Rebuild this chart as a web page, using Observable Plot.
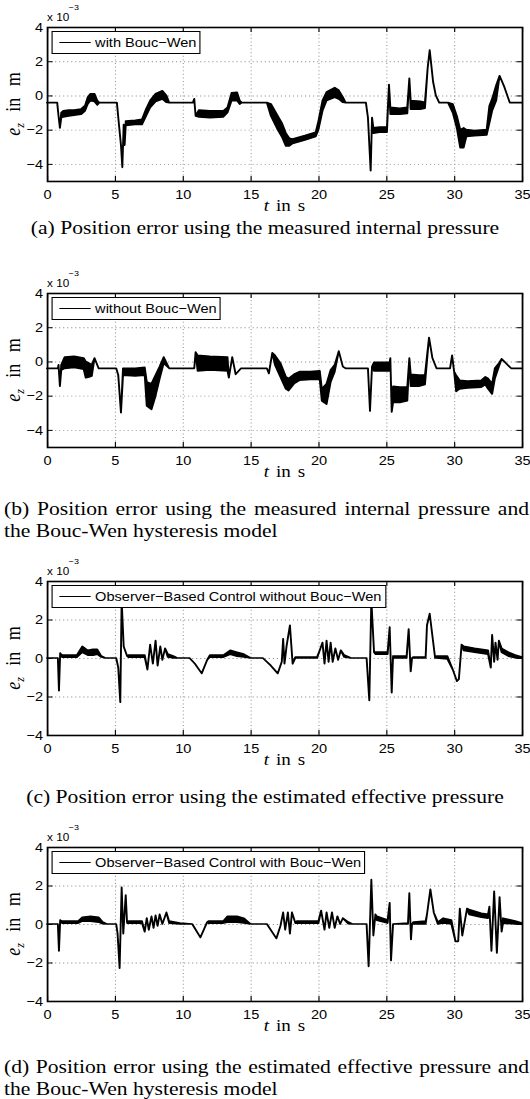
<!DOCTYPE html>
<html><head><meta charset="utf-8">
<script src="https://cdn.jsdelivr.net/npm/d3@7"></script>
<script src="https://cdn.jsdelivr.net/npm/@observablehq/plot@0.6"></script>
<style>
html,body{margin:0;padding:0;background:#fff;width:530px;height:1099px;overflow:hidden;}
#wrap{position:absolute;left:0;top:0;height:1099px;transform-origin:0 0;}
.abs{position:absolute;white-space:nowrap;color:#000;}
.serif{font-family:"Liberation Serif","Times New Roman",Times,serif;}
.sans{font-family:"Liberation Sans",Arial,Helvetica,sans-serif;}
.legend{box-sizing:border-box;border:1.3px solid #000;background:#fff;display:flex;align-items:center;font-size:13px;padding-right:3px;}
.legend .ln{display:inline-block;width:28.5px;border-top:1.6px solid #000;margin:0 3.5px 0 5.5px;}
.cap{font-size:19.3px;line-height:22px;white-space:normal;}
svg{position:absolute;left:0;}
</style></head><body><div id="wrap"></div>
<script>
// ---------- data (values in units of 1e-3 m) ----------
const timeTicks = [0, 5, 10, 15, 20, 25, 30, 35];
const errTicks = [-4, -2, 0, 2, 4];
const domainAB = [-5, 4];
const domainCD = [-4, 4];
const legendLabels = ["with Bouc\u2212Wen", "without Bouc\u2212Wen",
  "Observer\u2212Based Control without Bouc\u2212Wen", "Observer\u2212Based Control with Bouc\u2212Wen"];
const captions = [
  "(a) Position error using the measured internal pressure",
  "(b) Position error using the measured internal pressure and the Bouc-Wen hysteresis model",
  "(c) Position error using the estimated effective pressure",
  "(d) Position error using the estimated effective pressure and the Bouc-Wen hysteresis model"
];
// each entry: [t in s, lower envelope, upper envelope]
const withBoucWen = [
  [0,-0.42,-0.42],[0.75,-0.42,-0.42],[0.85,-1.2,-1.2],[0.95,-1.9,-1.9],[1.05,-1.3,-1.0],[1.2,-1.25,-0.9],
  [1.6,-1.2,-0.85],[2.0,-1.15,-0.85],[2.5,-1.1,-0.8],[2.8,-0.9,-0.6],[3.0,-0.5,-0.1],[3.2,-0.3,0.1],
  [3.5,-0.35,0.1],[3.7,-0.55,-0.3],[3.85,-0.42,-0.42],[5.15,-0.42,-0.42],[5.3,-1.7,-1.7],[5.45,-2.9,-2.9],
  [5.55,-4.2,-4.2],[5.65,-1.7,-1.7],[5.72,-2.9,-2.9],[5.8,-1.75,-1.5],[6.5,-1.7,-1.45],[7.0,-1.7,-1.4],
  [7.3,-1.2,-0.8],[7.6,-0.7,-0.3],[8.0,-0.35,0.1],[8.5,-0.2,0.27],[8.8,-0.4,0.0],[9.0,-0.42,-0.42],
  [10.75,-0.42,-0.42],[10.85,-0.2,-0.2],[10.95,-1.2,-1.2],[11.2,-1.25,-0.85],[12.0,-1.3,-0.9],
  [13.0,-1.25,-0.9],[13.3,-1.0,-0.7],[13.6,-0.3,0.15],[14.0,-0.3,0.18],[14.2,-0.5,-0.3],[14.35,-0.42,-0.42],
  [16.2,-0.42,-0.42],[16.5,-1.2,-0.5],[17.0,-2.0,-1.2],[17.3,-2.4,-1.6],[17.6,-2.95,-2.2],[17.85,-2.95,-2.5],
  [18.1,-2.8,-2.55],[19.0,-2.6,-2.35],[19.8,-2.4,-2.15],[20.0,-2.0,-1.5],[20.3,-0.9,-0.3],[20.6,-0.3,0.2],
  [21.2,-0.1,0.45],[21.5,-0.2,0.3],[21.8,-0.4,-0.1],[22.0,-0.42,-0.42],[23.5,-0.42,-0.42],[23.65,-1.3,-1.3],
  [23.85,-4.4,-4.4],[23.95,-1.3,-1.3],[24.05,-2.2,-1.9],[24.5,-2.15,-1.85],[25.05,-2.15,-1.85],
  [25.2,0.63,0.63],[25.3,-1.1,-0.7],[26.0,-1.1,-0.75],[26.55,-1.05,-0.7],[26.7,1.0,1.0],[26.8,-0.8,-0.3],
  [27.5,-0.8,-0.35],[27.85,-0.75,-0.4],[28.05,1.6,1.6],[28.2,2.65,2.65],[28.45,0.8,0.8],[28.65,0.0,0.0],
  [28.9,-0.42,-0.42],[29.55,-0.42,-0.42],[29.9,-1.0,-0.5],[30.2,-1.9,-1.2],[30.45,-3.05,-2.0],
  [30.7,-3.05,-1.9],[30.9,-2.4,-2.0],[31.5,-2.35,-2.05],[32.4,-2.3,-2.0],[32.6,-1.6,-0.6],[32.8,-0.9,-0.2],
  [33.1,-0.3,0.6],[33.35,1.15,1.15],[33.7,0.5,0.5],[34.1,-0.42,-0.42],[35,-0.42,-0.42]
];
const withoutBoucWen = [
  [0,-0.4,-0.4],[0.8,-0.4,-0.4],[0.85,-0.2,-0.2],[0.95,-1.45,-1.45],[1.05,-0.5,-0.2],[1.3,-0.4,0.25],
  [2.0,-0.35,0.3],[2.7,-0.45,0.2],[2.85,-0.95,0.0],[3.1,-0.9,-0.1],[3.3,-0.85,-0.2],[3.5,0.2,0.2],
  [3.8,-0.4,-0.4],[5.1,-0.4,-0.4],[5.25,-0.8,-0.8],[5.45,-3.0,-3.0],[5.6,-0.8,-0.4],[6.5,-0.85,-0.4],
  [7.2,-0.8,-0.35],[7.35,-2.6,-1.2],[7.7,-2.8,-1.3],[8.0,-2.0,-0.8],[8.3,-1.0,-0.3],[8.6,-0.1,0.25],
  [9.0,-0.4,-0.4],[10.85,-0.4,-0.4],[10.95,0.55,0.55],[11.1,-0.55,0.35],[12.0,-0.5,0.3],[13.3,-0.55,0.25],
  [13.4,-0.95,-0.95],[13.65,0.25,0.25],[13.9,-0.75,-0.75],[14.3,-0.4,-0.4],[16.2,-0.4,-0.4],[16.35,-0.7,-0.7],
  [16.6,0.5,0.5],[16.8,-0.2,0.35],[17.2,-0.9,-0.1],[17.6,-1.6,-0.9],[17.8,-1.7,-1.0],[18.2,-1.3,-0.75],
  [18.6,-1.1,-0.6],[19.4,-1.05,-0.6],[20.1,-1.05,-0.55],[20.25,-2.3,-1.6],[20.6,-2.5,-1.3],[20.9,-1.2,-0.5],
  [21.2,-0.6,-0.2],[21.5,0.6,0.6],[21.8,-0.3,-0.3],[22.0,-0.4,-0.4],[23.65,-0.4,-0.4],[23.8,-2.9,-2.9],
  [23.95,-0.3,-0.3],[24.1,-0.55,-0.05],[24.7,-0.55,-0.05],[25.25,-0.55,-0.05],[25.3,0.2,0.2],[25.4,-2.95,-2.95],
  [25.5,-2.4,-1.45],[26.0,-2.4,-1.5],[26.55,-2.3,-1.5],[26.7,0.2,0.2],[26.8,-1.45,-0.75],[27.4,-1.45,-0.8],
  [27.85,-1.35,-0.8],[28.15,1.4,1.4],[28.4,0.2,0.2],[28.7,-0.4,-0.4],[29.7,-0.4,-0.4],[29.85,0.35,0.35],
  [30.0,-0.6,-0.6],[30.15,-1.75,-0.8],[30.4,-1.6,-1.1],[31.0,-1.55,-1.15],[32.0,-1.5,-1.1],[32.3,-1.35,-0.9],
  [32.5,-1.6,-1.0],[32.8,-1.9,-1.3],[33.0,-1.0,-0.4],[33.3,-0.3,-0.1],[33.5,0.15,0.15],[34.2,-0.4,-0.4],
  [35,-0.4,-0.4]
];
const observerWithout = [
  [0,0,0],[0.8,0,0],[0.88,-1.7,-1.7],[0.97,0.25,0.25],[1.1,0.05,0.15],[2.2,0.05,0.15],[2.6,0.3,0.6],
  [3.0,0.15,0.4],[3.4,0.15,0.45],[3.7,0.2,0.45],[4.0,0.05,0.1],[4.3,0,0],[5.1,0,0],[5.25,-0.5,-0.5],
  [5.4,-2.3,-2.3],[5.5,3.0,3.0],[5.65,0.6,0.6],[5.9,0.1,0.1],[6.0,0.05,0.15],[7.2,0.05,0.15],
  [7.4,-0.6,-0.6],[7.6,0.7,0.7],[7.8,-0.3,-0.3],[8.0,0.9,0.9],[8.15,-0.4,-0.4],[8.35,0.6,0.6],
  [8.5,-0.1,-0.1],[8.7,0.5,0.5],[8.9,0.05,0.2],[9.3,0.0,0.1],[9.6,0,0],[10.5,0,0],[10.9,-0.3,-0.3],
  [11.4,-0.8,-0.8],[11.8,-0.1,-0.1],[12.0,0.05,0.15],[13.0,0.05,0.15],[13.5,0.2,0.4],[14.0,0.1,0.3],
  [14.5,0.05,0.2],[15.0,0,0],[15.9,0,0],[16.5,-0.4,-0.4],[17.0,-0.8,-0.8],[17.3,-0.2,-0.2],[17.4,1.0,1.0],
  [17.5,-0.3,-0.3],[17.65,0.6,0.6],[17.9,1.7,1.7],[18.1,-0.3,-0.3],[18.3,0,0.05],[19.9,0,0.05],
  [20.1,0.4,0.4],[20.3,0.8,0.8],[20.45,-0.3,-0.3],[20.6,0.9,0.9],[20.75,-0.2,-0.2],[20.9,0.8,0.8],
  [21.05,-0.2,-0.2],[21.25,0.5,0.5],[21.45,-0.1,-0.1],[21.65,0.4,0.4],[21.9,0.05,0.15],[22.4,0,0],
  [23.55,0,0],[23.75,-2.2,-2.2],[23.9,3.0,3.0],[24.1,0.3,0.3],[24.2,0.2,0.3],[25.1,0.2,0.3],
  [25.25,1.6,1.6],[25.4,-1.8,-1.8],[25.5,0.1,0.1],[25.6,0,0.1],[26.5,0,0.1],[26.65,1.5,1.5],
  [26.8,-0.7,-0.7],[26.9,0,0],[27.0,0,0.05],[27.9,0,0.05],[28.0,1.7,1.7],[28.2,2.3,2.3],[28.6,0,0],
  [28.7,0,0.1],[29.5,-0.05,0.1],[29.9,-0.6,-0.6],[30.2,-1.2,-1.2],[30.35,-1.1,-1.1],[30.55,0.7,0.7],
  [30.7,0.4,0.6],[31.5,0.3,0.5],[32.5,0.2,0.4],[32.7,-0.5,-0.5],[32.8,1.2,1.2],[32.95,-0.2,-0.2],
  [33.05,0.8,0.8],[33.2,-0.1,-0.1],[33.3,0.9,0.9],[33.5,0.3,0.5],[34.0,0.1,0.3],[34.5,0.02,0.15],[35,0,0.05]
];
const observerWith = [
  [0,0,0],[0.8,0,0],[0.88,-1.4,-1.4],[0.97,0.2,0.2],[1.1,0.05,0.15],[2.3,0.05,0.15],[2.6,0.15,0.35],
  [3.2,0.15,0.4],[3.8,0.1,0.35],[4.1,0.02,0.1],[4.4,0,0],[5.1,0,0],[5.2,-0.5,-0.5],[5.35,-2.3,-2.3],
  [5.5,1.9,1.9],[5.62,-0.5,-0.5],[5.8,1.5,1.5],[5.9,0.05,0.05],[6.0,0.05,0.15],[7.0,0.05,0.15],
  [7.2,-0.4,-0.4],[7.35,0.3,0.3],[7.5,-0.3,-0.3],[7.7,0.4,0.4],[7.85,-0.2,-0.2],[8.0,0.45,0.45],
  [8.15,-0.1,-0.1],[8.3,0.5,0.5],[8.5,0.0,0.0],[8.8,0.6,0.6],[9.0,0.05,0.15],[9.8,0.0,0.05],[10.7,0,0],
  [11.3,-0.7,-0.7],[11.8,0.1,0.1],[11.9,0.05,0.15],[13.0,0.05,0.15],[13.3,0.1,0.4],[14.0,0.1,0.4],
  [14.5,0.05,0.3],[15.0,0,0],[16.2,0,0],[16.9,-0.75,-0.75],[17.2,-0.1,-0.1],[17.4,0.6,0.6],
  [17.55,-0.3,-0.3],[17.75,0.6,0.6],[17.9,-0.5,-0.5],[18.05,0.6,0.6],[18.3,0.05,0.05],[18.4,0.05,0.15],
  [20.0,0.05,0.15],[20.2,0.7,0.7],[20.45,-0.3,-0.3],[20.6,0.6,0.6],[20.8,-0.2,-0.2],[21.0,0.6,0.6],
  [21.2,-0.2,-0.2],[21.4,0.4,0.4],[21.6,0.0,0.0],[21.8,0.3,0.3],[22.2,0.02,0.1],[22.5,0,0],[23.55,0,0],
  [23.7,-2.2,-2.2],[23.9,2.3,2.3],[24.05,-0.6,-0.6],[24.2,0.5,0.5],[24.3,0.2,0.4],[25.1,0.05,0.2],
  [25.25,1.1,1.1],[25.35,-1.9,-1.9],[25.5,0,0],[26.6,0,0.05],[26.7,1.6,1.6],[26.82,-0.8,-0.8],[26.9,0,0],
  [27.0,0,0.1],[27.9,0,0.15],[28.0,0.5,0.5],[28.25,1.8,1.8],[28.5,0.6,0.6],[28.8,0,0.1],[29.2,0.05,0.3],
  [29.8,0.0,0.2],[30.1,-0.9,-0.9],[30.3,-0.9,-0.9],[30.42,0.8,0.8],[30.6,-0.6,-0.6],[30.95,0.8,0.8],
  [31.1,0.5,0.75],[32.0,0.35,0.55],[32.5,0.3,0.5],[32.6,0.9,0.9],[32.75,-1.4,-1.4],[32.95,1.7,1.7],
  [33.15,-1.5,-1.5],[33.35,1.4,1.4],[33.5,-0.4,-0.4],[33.6,0.05,0.3],[34.5,0.0,0.15],[35,0,0.05]
];

// ---------- layout ----------
const S = 1.12;              // horizontal stretch of the reference raster
const W = 530 / S;
const ML = 47 / S, MR = 8 / S, MT = 27, FH = 154, MB = 26;
const wrap = document.getElementById("wrap");
wrap.style.width = W + "px";
wrap.style.transform = `scaleX(${S})`;

const panels = [
  {top: 27,  data: withBoucWen,     domain: domainAB, cap: 0, capTop: 217,  justify: false},
  {top: 293, data: withoutBoucWen,  domain: domainAB, cap: 1, capTop: 497.5, justify: true},
  {top: 581, data: observerWithout, domain: domainCD, cap: 2, capTop: 786,  justify: false},
  {top: 847, data: observerWith,    domain: domainCD, cap: 3, capTop: 1056, justify: true}
];

function add(html) { wrap.insertAdjacentHTML("beforeend", html); }

panels.forEach((p, i) => {
  const FW = W - ML - MR;
  const gridX = timeTicks.filter(v => v > 0 && v < 35);
  const gridY = errTicks.filter(v => v > p.domain[0] && v < p.domain[1]);
  const grid = {stroke: "#8c8c8c", strokeWidth: 0.9, strokeDasharray: "1,2.6"};
  const chart = Plot.plot({
    width: W, height: MT + FH + MB,
    marginTop: MT, marginBottom: MB, marginLeft: ML, marginRight: MR,
    x: {domain: [0, 35]},
    y: {domain: p.domain},
    style: {fontFamily: "'Liberation Sans', Arial, Helvetica, sans-serif", fontSize: "13px", color: "#000", background: "transparent", overflow: "visible"},
    marks: [
      Plot.ruleX(gridX, {x: d => d, ...grid}),
      Plot.ruleY(gridY, {y: d => d, ...grid}),
      Plot.areaY(p.data, {x: d => d[0], y1: d => d[1], y2: d => d[2], fill: "#000", stroke: "#000", strokeWidth: 1.7, strokeLinejoin: "round"}),
      Plot.tickX(timeTicks, {x: d => d, insetTop: FH - 5, stroke: "#000", strokeWidth: 1}),
      Plot.tickX(timeTicks, {x: d => d, insetBottom: FH - 5, stroke: "#000", strokeWidth: 1}),
      Plot.tickY(errTicks, {y: d => d, insetRight: FW - 5, stroke: "#000", strokeWidth: 1}),
      Plot.tickY(errTicks, {y: d => d, insetLeft: FW - 5, stroke: "#000", strokeWidth: 1}),
      Plot.frame({stroke: "#000", strokeWidth: 1.6}),
      Plot.axisX({ticks: timeTicks, tickSize: 0, tickPadding: 8, label: null, fontSize: 13}),
      Plot.axisY({ticks: errTicks, tickSize: 0, tickPadding: 4, label: null, fontSize: 13})
    ]
  });
  chart.style.top = (p.top - MT) + "px";
  wrap.appendChild(chart);

  // exponent label
  add(`<div class="abs sans" style="left:${ML}px;top:${p.top - 16}px;font-size:10.5px;line-height:12px">x 10</div>`);
  add(`<div class="abs sans" style="left:${ML + 19.5}px;top:${p.top - 24}px;font-size:8px;line-height:9px">\u22123</div>`);
  // legend
  add(`<div class="abs sans legend" style="left:${52 / S}px;top:${p.top + 3.5}px;height:23px"><span class="ln"></span>${legendLabels[i]}</div>`);
  // y label
  add(`<div class="abs serif" style="left:${13 / S}px;top:${p.top + FH / 2}px;font-size:18px;line-height:20px;word-spacing:7px;transform:translate(-50%,-50%) rotate(-90deg)"><i>e</i><sub style="font-size:12px;vertical-align:-3px;line-height:0"><i>z</i></sub> in m</div>`);
  // x label
  add(`<div class="abs serif" style="left:${ML + FW / 2}px;top:${p.top + FH + 15}px;font-size:17px;line-height:20px;word-spacing:2px;transform:translateX(-50%)"><i>t</i> in s</div>`);
  // caption
  if (p.justify) {
    add(`<div class="abs serif cap" style="left:${4 / S}px;top:${p.capTop}px;width:${525 / S}px;text-align:justify">${captions[p.cap]}</div>`);
  } else {
    add(`<div class="abs serif cap" style="left:0;top:${p.capTop}px;width:${W}px;text-align:center;white-space:nowrap">${captions[p.cap]}</div>`);
  }
});
</script>
</body></html>
